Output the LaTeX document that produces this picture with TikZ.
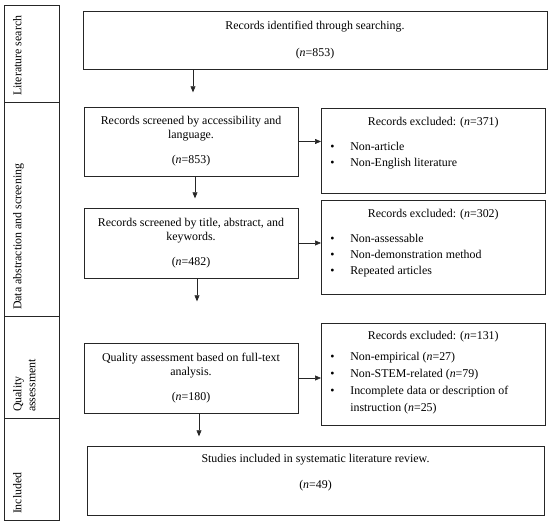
\documentclass[tikz,border=0pt]{standalone}
\usepackage{fontspec}
\setmainfont{Liberation Serif}
\usetikzlibrary{arrows.meta,calc}
\newcommand{\exitem}[1]{\par\hangindent=21pt\hangafter=1\noindent\makebox[21pt][l]{\hspace{1pt}\textbullet}#1}
\begin{document}
\begin{tikzpicture}[x=1pt, y=-1pt,
  line width=0.6pt, draw=black!85,
  every node/.style={font=\fontsize{11.9}{14}\selectfont},
  lane/.style={draw, rectangle, rotate=90, inner xsep=6pt, inner ysep=9pt},
  stepbox/.style={draw, rectangle, align=center},
  exbox/.style={draw, rectangle, anchor=north west, inner xsep=8pt, inner ysep=0pt},
  flow/.style={-{Triangle[length=6pt,width=5pt]}}]
\useasboundingbox (0,0) rectangle (550,526);
% stage column
\node[lane] (lit) at (31.5,53.5) {\parbox[c][37pt][t]{85pt}{Literature search}};
\node[lane] (dat) at (31.5,209) {\parbox[c][37pt][t]{202pt}{Data abstraction and screening}};
\node[lane] (qua) at (31.5,367) {\parbox[c][37pt][t]{90pt}{\baselineskip=14pt Quality\\assessment}};
\node[lane] (inc) at (31.5,469) {\parbox[c][37pt][t]{90pt}{Included}};
% main steps
\node[stepbox, minimum width=464pt, minimum height=58pt] (s1) at (315,40) {Records identified through searching.\\[13pt](\textit{n}=853)};
\node[stepbox, minimum width=214pt, minimum height=69pt] (s2) at (191,141.5) {Records screened by accessibility and\\language.\\[11pt](\textit{n}=853)};
\node[stepbox, minimum width=214pt, minimum height=70pt] (s3) at (191,243) {Records screened by title, abstract, and\\keywords.\\[11pt](\textit{n}=482)};
\node[stepbox, minimum width=214pt, minimum height=70pt] (s4) at (191,378) {Quality assessment based on full-text\\analysis.\\[11pt](\textit{n}=180)};
\node[stepbox, minimum width=457pt, minimum height=69pt] (s5) at (315.5,480.5) {Studies included in systematic literature review.\\[12pt](\textit{n}=49)\\[4pt]\mbox{}};
% excluded records
\node[exbox] (x1) at (321,108) {\parbox[c][85pt][t]{208pt}{\baselineskip=16pt\vspace*{9pt}\centering Records excluded: (\textit{n}=371)\par\vspace{9pt}\raggedright
  \exitem{Non-article}\exitem{Non-English literature}}};
\node[exbox] (x2) at (321,200) {\parbox[c][94pt][t]{208pt}{\baselineskip=16pt\vspace*{9pt}\centering Records excluded: (\textit{n}=302)\par\vspace{9pt}\raggedright
  \exitem{Non-assessable}\exitem{Non-demonstration method}\exitem{Repeated articles}}};
\node[exbox] (x3) at (321,323) {\parbox[c][102pt][t]{208pt}{\baselineskip=17pt\vspace*{8pt}\centering Records excluded: (\textit{n}=131)\par\vspace{4pt}\raggedright
  \exitem{Non-empirical (\textit{n}=27)}\exitem{Non-STEM-related (\textit{n}=79)}\exitem{Incomplete data or description of\newline instruction (\textit{n}=25)}}};
% arrows
\draw[flow] ($(s1.south -| s2.south)+(2,0)$) -- ++(0,23);
\draw[flow] ([xshift=4pt]s2.south) -- ++(0,22);
\draw[flow] ([xshift=6pt]s3.south) -- ++(0,23);
\draw[flow] ([xshift=8pt]s4.south) -- ++(0,23);
\draw[flow] (s2.east) -- (x1.west |- s2.east);
\draw[flow] (s3.east) -- (x2.west |- s3.east);
\draw[flow] (s4.east) -- (x3.west |- s4.east);
\end{tikzpicture}
\end{document}
